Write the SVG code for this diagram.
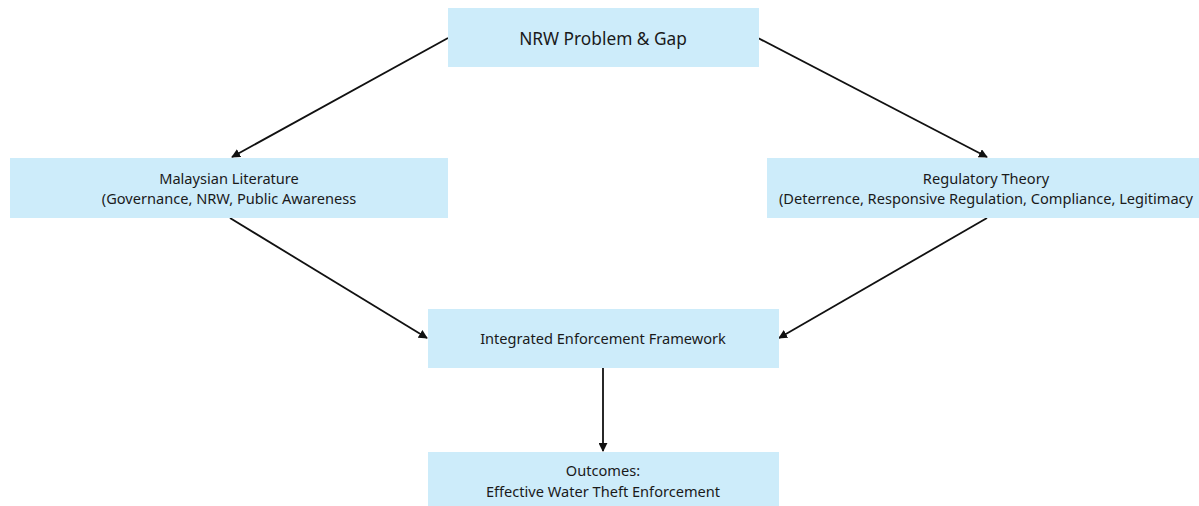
<svg xmlns="http://www.w3.org/2000/svg" width="1199" height="506" viewBox="0 0 1199 506">
  <style>
    .box { fill: #cdecfa; }
    .lbl { font-family: "Noto Sans", "Open Sans", sans-serif; font-size: 14.6px; fill: #1a1a1a; text-anchor: middle; }
    .big { font-size: 17.3px; }
    .edge { stroke: #111; stroke-width: 1.8; fill: none; marker-end: url(#arrow); }
  </style>
  <defs>
    <marker id="arrow" viewBox="0 0 10 10" refX="9" refY="5" markerWidth="9" markerHeight="9" markerUnits="userSpaceOnUse" orient="auto">
      <path d="M0,0 L10,5 L0,10 z" fill="#111"/>
    </marker>
  </defs>
  <rect width="1199" height="506" fill="#ffffff"/>

  <!-- arrows between the stages -->
  <g id="connectors">
    <line class="edge" x1="448" y1="38" x2="232" y2="157"/>
    <line class="edge" x1="758" y1="38" x2="987" y2="157"/>
    <line class="edge" x1="230" y1="218" x2="427" y2="338"/>
    <line class="edge" x1="987" y1="218" x2="779" y2="338"/>
    <line class="edge" x1="603" y1="368" x2="603" y2="451"/>
  </g>

  <g id="node-problem">
    <rect class="box" x="448" y="8" width="311" height="59"/>
    <text class="lbl big" x="603" y="45">NRW Problem &amp; Gap</text>
  </g>

  <g id="node-literature">
    <rect class="box" x="10" y="158" width="438" height="60"/>
    <text class="lbl" x="229" y="184">Malaysian Literature</text>
    <text class="lbl" x="229" y="204">(Governance, NRW, Public Awareness</text>
  </g>

  <g id="node-theory">
    <rect class="box" x="767" y="158" width="432" height="60"/>
    <text class="lbl" x="986" y="184">Regulatory Theory</text>
    <text class="lbl" x="986" y="204">(Deterrence, Responsive Regulation, Compliance, Legitimacy</text>
  </g>

  <g id="node-framework">
    <rect class="box" x="428" y="309" width="351" height="59"/>
    <text class="lbl" x="603" y="344">Integrated Enforcement Framework</text>
  </g>

  <g id="node-outcomes">
    <rect class="box" x="428" y="452" width="351" height="54"/>
    <text class="lbl" x="603" y="476">Outcomes:</text>
    <text class="lbl" x="603" y="497">Effective Water Theft Enforcement</text>
  </g>
</svg>
